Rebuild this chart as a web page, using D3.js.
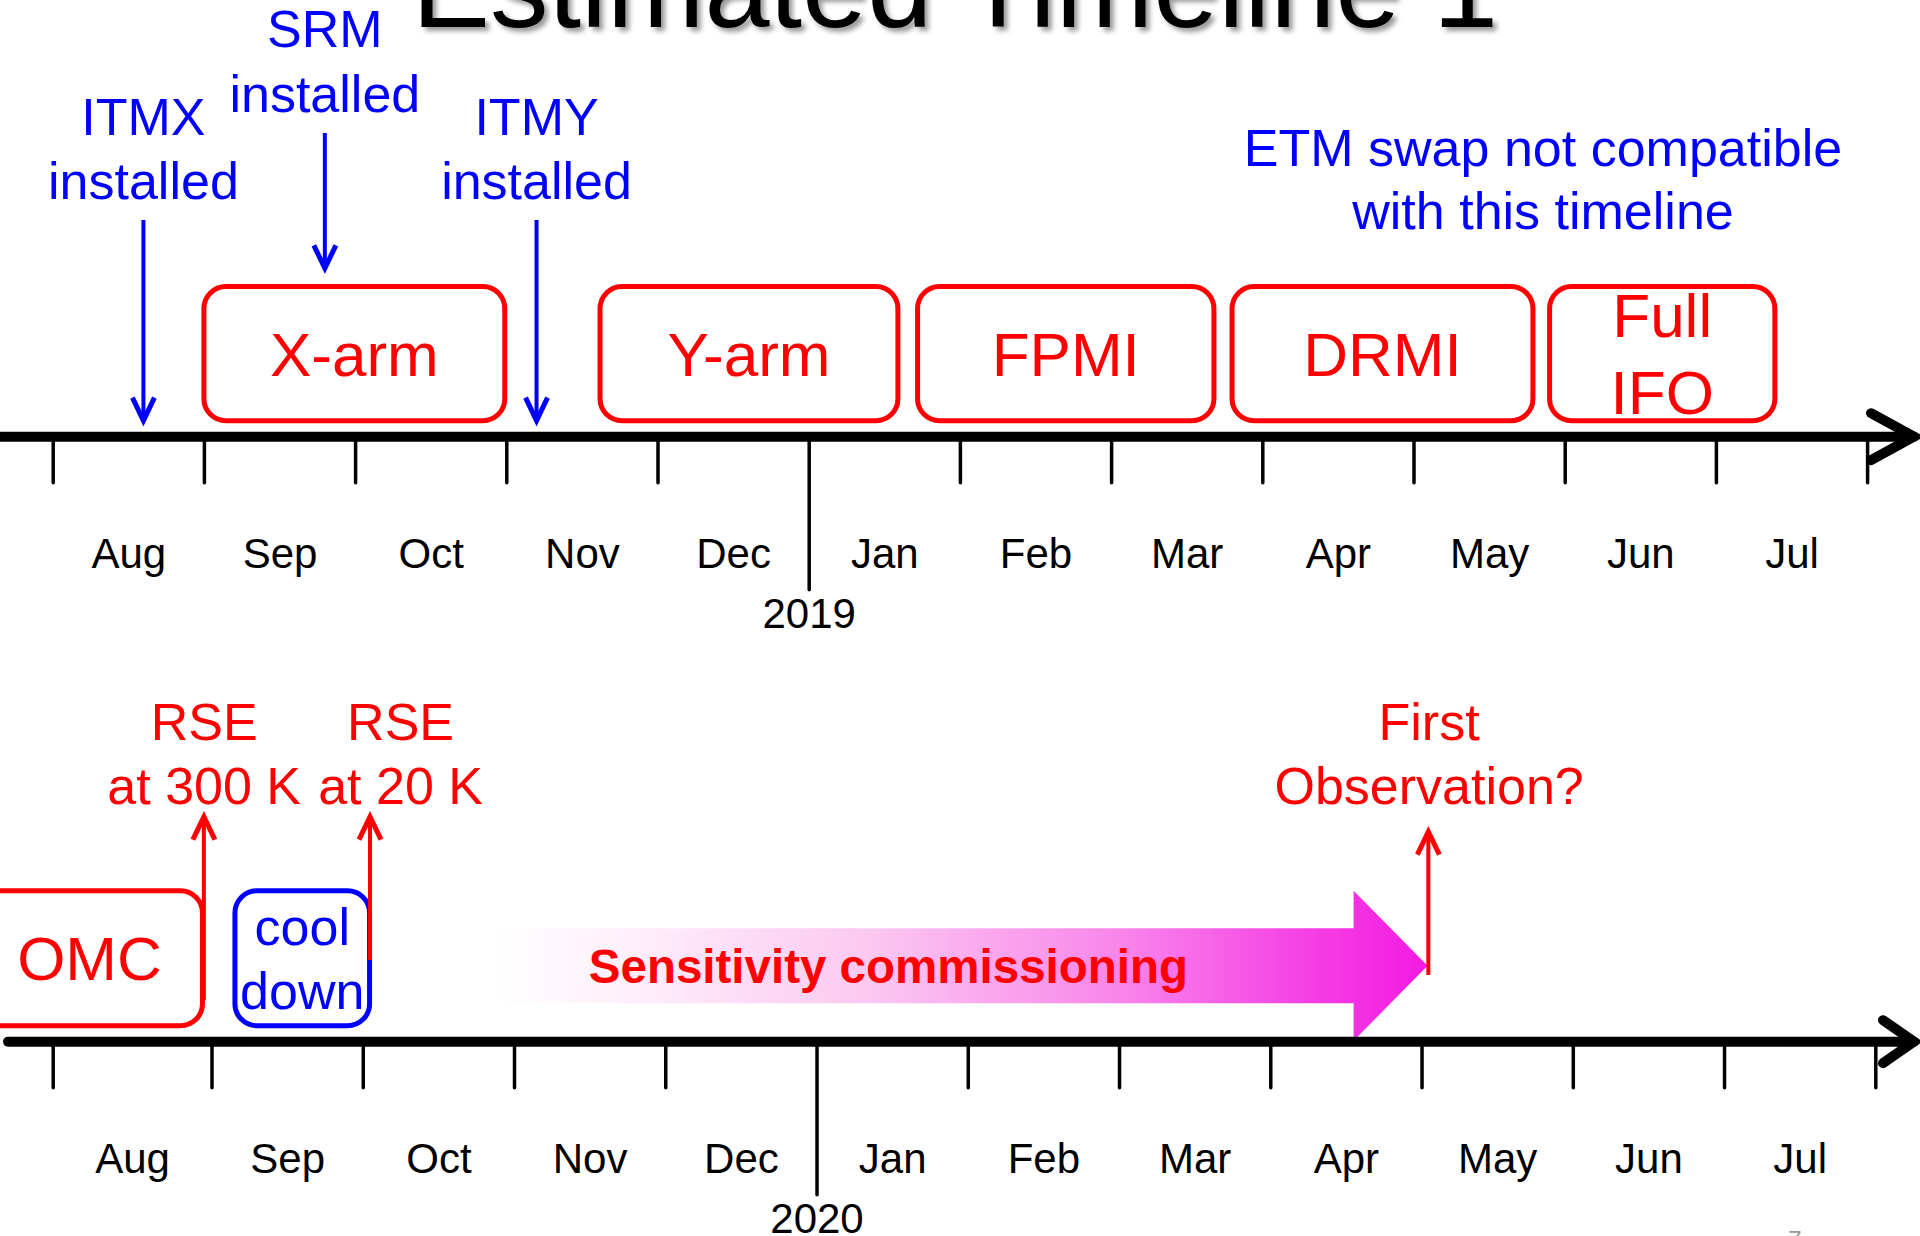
<!DOCTYPE html>
<html>
<head>
<meta charset="utf-8">
<title>Estimated Timeline 1</title>
<script src="https://cdn.jsdelivr.net/npm/d3@7.9.0/dist/d3.min.js"></script>
<style>
  html, body { margin: 0; padding: 0; background: #fff; overflow: hidden; }
  svg { display: block; font-family: 'Liberation Sans', Arial, sans-serif; }
</style>
</head>
<body>
<svg id="chart" width="1920" height="1236"></svg>
<script>
// ---- data (positions along each timeline are in months, 0 = start of Aug) ----
const title = 'Estimated Timeline 1';
const months = ['Aug', 'Sep', 'Oct', 'Nov', 'Dec', 'Jan', 'Feb', 'Mar', 'Apr', 'May', 'Jun', 'Jul'];
const yearTickIndex = 5; // boundary Dec -> Jan
const yearLabels = ['2019', '2020'];

// upper timeline (Aug 2018 - Jul 2019)
const topPhaseNames = [['X-arm'], ['Y-arm'], ['FPMI'], ['DRMI'], ['Full', 'IFO']];
const topPhaseStart = [1.0, 3.62, 5.72, 7.8, 9.9];
const topPhaseEnd = [2.99, 5.59, 7.68, 9.79, 11.39];
const topEventNames = [['ITMX', 'installed'], ['SRM', 'installed'], ['ITMY', 'installed']];
const topEventAt = [0.6, 1.8, 3.2];
const topEventTier = [1, 0, 1];
const topNote = ['ETM swap not compatible', 'with this timeline'];

// lower timeline (Aug 2019 - Jul 2020)
const bottomPhaseNames = [['OMC'], ['cool', 'down']];
const bottomPhaseStart = [-0.48, 1.155];
const bottomPhaseEnd = [0.943, 2.045];
const bottomPhaseColor = ['red', 'blue'];
const bottomEventNames = [['RSE', 'at 300 K'], ['RSE', 'at 20 K'], ['First', 'Observation?']];
const bottomEventAt = [0.952, 2.048, 9.045];
const bottomEventLabelAt = [0.954, 2.25, 9.05];
const commissioningLabel = 'Sensitivity commissioning';
const commissioningStart = 2.334;
const commissioningEnd = 9.04;

// ---- scales ----
const xTop = d3.scaleLinear().domain([0, 12]).range([52.7, 1867.1]);
// first month on the lower line is drawn a little wider
const xBottom = d3.scaleLinear().domain([0, 1, 12]).range([52.7, 211.5, 1875.3]);

const svg = d3.select('#chart');
const defs = svg.append('defs');

defs.append('filter')
    .attr('id', 'shadow')
    .attr('x', '-5%').attr('y', '-30%')
    .attr('width', '110%').attr('height', '160%')
    .append('feDropShadow')
    .attr('dx', 4).attr('dy', 4)
    .attr('stdDeviation', 2.5)
    .attr('flood-color', '#000')
    .attr('flood-opacity', 0.4);

const grad = defs.append('linearGradient')
    .attr('id', 'commGrad')
    .attr('x1', 0).attr('x2', 1).attr('y1', 0).attr('y2', 0);
[[0, '#ffffff'], [0.08, '#ffffff'], [0.2, '#fff1fb'], [0.45, '#fbc8f1'], [0.7, '#f884ea'], [0.9, '#f53ae4'], [1, '#f41ae3']]
    .forEach(([o, c]) => grad.append('stop').attr('offset', o).attr('stop-color', c));

// title (top half is cut off by the slide frame)
svg.append('text')
    .attr('x', 412)
    .attr('y', 27)
    .attr('font-size', 117)
    .attr('fill', '#000')
    .attr('filter', 'url(#shadow)')
    .text(title);

// multi-line text centred on x, lines given by baselines
function multiText(lines, x, baselines, size, color, weight) {
    const t = svg.append('text')
        .attr('text-anchor', 'middle')
        .attr('font-size', size)
        .attr('font-weight', weight || 'normal')
        .attr('fill', color);
    lines.forEach((l, i) => {
        t.append('tspan').attr('x', x).attr('y', baselines[i]).text(l);
    });
}

function roundBox(x, lines, start, end, y0, y1, color, size, lh) {
    svg.append('rect')
        .attr('x', x(start))
        .attr('y', y0)
        .attr('width', x(end) - x(start))
        .attr('height', y1 - y0)
        .attr('rx', 22)
        .attr('fill', 'none')
        .attr('stroke', color)
        .attr('stroke-width', 5);
    const mid = (y0 + y1) / 2 + size * 0.358;
    const n = lines.length;
    const bl = lines.map((d, i) => mid + (i - (n - 1) / 2) * lh);
    multiText(lines, (x(start) + x(end)) / 2, bl, size, color);
}

// vertical arrow, tip at yTip, tail at yTail
function vArrow(xp, yTail, yTip, color) {
    const dir = yTip > yTail ? -1 : 1;
    svg.append('line')
        .attr('x1', xp).attr('x2', xp)
        .attr('y1', yTail).attr('y2', yTip + dir * 2)
        .attr('stroke', color)
        .attr('stroke-width', 4);
    svg.append('polyline')
        .attr('points', [[xp - 11, yTip + dir * 23], [xp, yTip], [xp + 11, yTip + dir * 23]].join(' '))
        .attr('fill', 'none')
        .attr('stroke', color)
        .attr('stroke-width', 5)
        .attr('stroke-linejoin', 'miter');
}

function drawAxis(x, axisY, year, lineStart, headLen, headHalf) {
    const g = svg.append('g');
    // month boundary ticks
    g.append('g')
        .attr('transform', `translate(0,${axisY})`)
        .call(d3.axisBottom(x)
            .tickValues(d3.range(months.length + 1).filter(d => d !== yearTickIndex))
            .tickSize(46)
            .tickFormat(''))
        .call(a => a.select('.domain').remove())
        .call(a => a.selectAll('line').attr('stroke', '#000').attr('stroke-width', 3.5).attr('stroke-linecap', 'round'));
    // year tick
    g.append('g')
        .attr('transform', `translate(0,${axisY})`)
        .call(d3.axisBottom(x).tickValues([yearTickIndex]).tickSize(153).tickFormat(() => year))
        .attr('font-family', null)
        .attr('font-size', 42)
        .call(a => a.select('.domain').remove())
        .call(a => a.selectAll('line').attr('stroke', '#000').attr('stroke-width', 3.5).attr('stroke-linecap', 'round'))
        .call(a => a.selectAll('text').attr('y', 191.3).attr('dy', null));
    // month labels, centred between ticks
    g.append('g')
        .attr('transform', `translate(0,${axisY})`)
        .call(d3.axisBottom(x).tickValues(months.map((m, i) => i + 0.5)).tickSize(0).tickFormat((d, i) => months[i]))
        .attr('font-family', null)
        .attr('font-size', 42)
        .call(a => a.select('.domain').remove())
        .call(a => a.selectAll('text').attr('y', 131.6).attr('dy', null));
    // main line with arrow head
    const tip = 1917;
    g.append('line')
        .attr('x1', lineStart).attr('x2', tip - 3)
        .attr('y1', axisY).attr('y2', axisY)
        .attr('stroke', '#000')
        .attr('stroke-width', 10)
        .attr('stroke-linecap', 'round');
    g.append('polyline')
        .attr('points', [[tip - headLen, axisY - headHalf], [tip - 3, axisY], [tip - headLen, axisY + headHalf]].join(' '))
        .attr('fill', 'none')
        .attr('stroke', '#000')
        .attr('stroke-width', 10)
        .attr('stroke-linecap', 'round')
        .attr('stroke-linejoin', 'miter');
}

// ---- upper timeline ----
const topAxisY = 436.7;
topPhaseNames.forEach((n, i) => {
    roundBox(xTop, n, topPhaseStart[i], topPhaseEnd[i], 286.5, 420.8, 'red', 62, 77);
});

const tierBaseline = [111.7, 199.3];
const tierArrow = [[133, 268.3], [220, 420.7]];
topEventNames.forEach((n, i) => {
    const t = topEventTier[i];
    const xp = xTop(topEventAt[i]);
    multiText(n, xp, [tierBaseline[t] - 64.5, tierBaseline[t]], 52, 'blue');
    vArrow(xp, tierArrow[t][0], tierArrow[t][1], 'blue');
});

multiText(topNote, 1543, [165.7, 229.3], 52, 'blue');

drawAxis(xTop, topAxisY, yearLabels[0], -10, 46, 23.5);

// ---- lower timeline ----
const bottomAxisY = 1041.7;

// commissioning arrow (gradient)
const cs = xBottom(commissioningStart);
const ce = xBottom(commissioningEnd);
const headLen = 74;
const cy = 965.8;
svg.append('polygon')
    .attr('points', [
        [cs, cy - 37.5], [ce - headLen, cy - 37.5], [ce - headLen, cy - 75],
        [ce, cy], [ce - headLen, cy + 75], [ce - headLen, cy + 37.5], [cs, cy + 37.5]
    ].join(' '))
    .attr('fill', 'url(#commGrad)');
svg.append('text')
    .attr('x', (cs + ce - headLen) / 2 + 5)
    .attr('y', 983.3)
    .attr('text-anchor', 'middle')
    .attr('font-size', 47.5)
    .attr('font-weight', 'bold')
    .attr('fill', 'red')
    .text(commissioningLabel);

bottomPhaseNames.forEach((n, i) => {
    const big = bottomPhaseColor[i] === 'red';
    roundBox(xBottom, n, bottomPhaseStart[i], bottomPhaseEnd[i], 890.8, 1025.8,
        bottomPhaseColor[i], big ? 62 : 52, big ? 77 : 64);
});

const bottomArrow = [[1000, 816.7], [960, 816.7], [975, 831.7]];
bottomEventNames.forEach((n, i) => {
    multiText(n, xBottom(bottomEventLabelAt[i]), [740, 804], 52, 'red');
    vArrow(xBottom(bottomEventAt[i]), bottomArrow[i][0], bottomArrow[i][1], 'red');
});

drawAxis(xBottom, bottomAxisY, yearLabels[1], 8, 34, 21.5);

// slide number, mostly below the frame
svg.append('text')
    .attr('x', 1795)
    .attr('y', 1248)
    .attr('text-anchor', 'middle')
    .attr('font-size', 24)
    .attr('fill', '#999')
    .text('7');
</script>
</body>
</html>
